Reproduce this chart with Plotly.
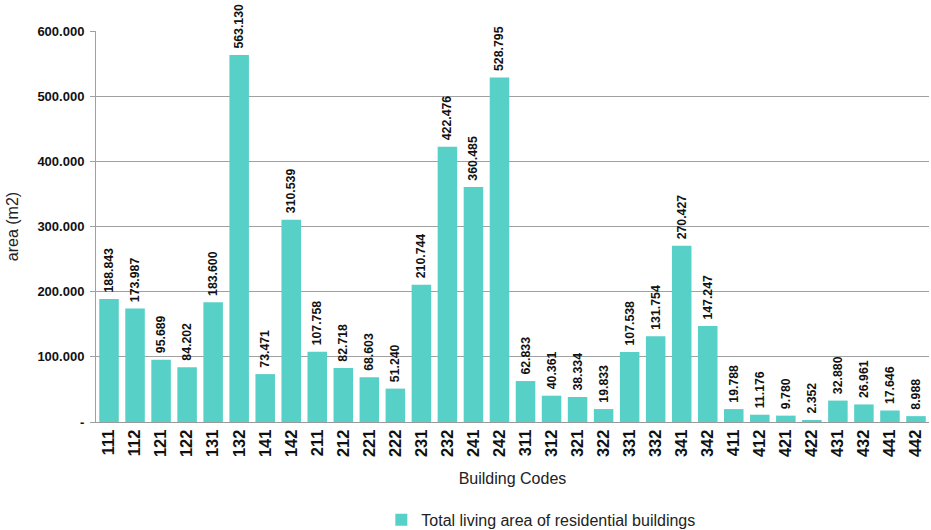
import plotly.graph_objects as go

codes = ["111", "112", "121", "122", "131", "132", "141", "142",
         "211", "212", "221", "222", "231", "232", "241", "242",
         "311", "312", "321", "322", "331", "332", "341", "342",
         "411", "412", "421", "422", "431", "432", "441", "442"]
areas = [188843, 173987, 95689, 84202, 183600, 563130, 73471, 310539,
         107758, 82718, 68603, 51240, 210744, 422476, 360485, 528795,
         62833, 40361, 38334, 19833, 107538, 131754, 270427, 147247,
         19788, 11176, 9780, 2352, 32880, 26961, 17646, 8988]
ytick_vals = [0, 100000, 200000, 300000, 400000, 500000, 600000]
ytick_text = ["-", "100.000", "200.000", "300.000", "400.000", "500.000", "600.000"]

FONT = "Arial, 'Liberation Sans', sans-serif"
COLOR = "#57d0c7"

fig = go.Figure(go.Bar(
    x=codes, y=areas,
    name="Total living area of residential buildings",
    marker=dict(color=COLOR, line=dict(width=0)),
    texttemplate="\u00a0<b>%{y:,.0f}</b>",
    textposition="outside",
    textangle=-90,
    textfont=dict(family=FONT, size=12.3, color="#111"),
    constraintext="none",
    cliponaxis=False,
))

fig.update_layout(
    width=931, height=530,
    separators=",.",
    margin=dict(l=96, r=2, t=31, b=108, autoexpand=False),
    paper_bgcolor="white", plot_bgcolor="white",
    bargap=0.25,
    font=dict(family=FONT, color="#111"),
    showlegend=True,
    legend=dict(orientation="h", x=0.534, xanchor="center", y=-0.25, yanchor="middle",
                font=dict(size=16, color="#222")),
    xaxis=dict(
        type="category",
        automargin=False,
        tickangle=-90,
        tickfont=dict(family=FONT, size=16.5, color="#111", weight="bold"),
        showline=True, linecolor="#999", linewidth=1,
        ticks="", showgrid=False,
        ticklabeloverflow="allow",
        title=dict(text="Building Codes", font=dict(size=16, color="#222"), standoff=16),
    ),
    yaxis=dict(
        automargin=False,
        range=[0, 600000],
        tickvals=ytick_vals, ticktext=ytick_text,
        tickfont=dict(family=FONT, size=13, color="#111", weight="bold"),
        showgrid=True, gridcolor="#a0a0a0", gridwidth=1,
        ticks="outside", ticklen=5, tickcolor="#a0a0a0",
        ticklabelstandoff=3,
        showline=True, linecolor="#a0a0a0",
        zeroline=False,
        title=dict(text="area (m2)", font=dict(size=16, color="#222"), standoff=14),
    ),
)

fig.write_html("out.html", config={"displayModeBar": False},
               post_script="document.body.style.margin='0';")
